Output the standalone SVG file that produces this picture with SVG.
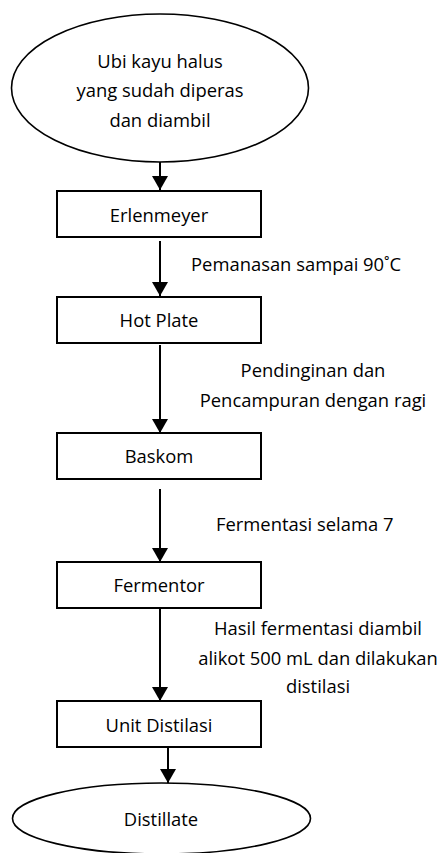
<svg xmlns="http://www.w3.org/2000/svg" width="442" height="853" viewBox="0 0 442 853">
<style>
text{font-family:"Open Sans","Liberation Sans",sans-serif;font-size:18.4px;fill:#000}
.c{text-anchor:middle}
.box{fill:#fff;stroke:#000;stroke-width:2}
.ell{fill:#fff;stroke:#000;stroke-width:1.6}
.con{stroke:#000;stroke-width:2;fill:none}
</style>
<defs>
<marker id="ah" viewBox="0 0 14 16" markerWidth="14" markerHeight="16" refX="14" refY="8" orient="auto" markerUnits="userSpaceOnUse">
<path d="M0,0 L14,8 L0,16 z" fill="#000"/>
</marker>
</defs>
<rect width="442" height="853" fill="#fff"/>
<g id="connectors">
<line class="con" x1="160" y1="162" x2="160" y2="190" marker-end="url(#ah)"/>
<line class="con" x1="160" y1="241" x2="160" y2="296" marker-end="url(#ah)"/>
<line class="con" x1="160" y1="345" x2="160" y2="433" marker-end="url(#ah)"/>
<line class="con" x1="160" y1="489" x2="160" y2="562" marker-end="url(#ah)"/>
<line class="con" x1="160" y1="608" x2="160" y2="701" marker-end="url(#ah)"/>
<line class="con" x1="168" y1="747" x2="168" y2="783" marker-end="url(#ah)"/>
<text x="191" y="271">Pemanasan sampai 90˚C</text>
<text class="c" x="313" y="377">Pendinginan dan</text>
<text class="c" x="313" y="407">Pencampuran dengan ragi</text>
<text x="216" y="531">Fermentasi selama 7</text>
<text class="c" x="318" y="635">Hasil fermentasi diambil</text>
<text class="c" x="318" y="665">alikot 500 mL dan dilakukan</text>
<text class="c" x="318" y="693">distilasi</text>
</g>
<g id="start">
<ellipse class="ell" cx="160" cy="88" rx="148.5" ry="74"/>
<text class="c" x="160" y="68">Ubi kayu halus</text>
<text class="c" x="160" y="97">yang sudah diperas</text>
<text class="c" x="160" y="127">dan diambil</text>
</g>
<g id="erlenmeyer">
<rect class="box" x="57" y="191" width="204" height="46"/>
<text class="c" x="159" y="222">Erlenmeyer</text>
</g>
<g id="hotplate">
<rect class="box" x="57" y="297" width="204" height="46"/>
<text class="c" x="159" y="327">Hot Plate</text>
</g>
<g id="baskom">
<rect class="box" x="57" y="433" width="204" height="46"/>
<text class="c" x="159" y="463">Baskom</text>
</g>
<g id="fermentor">
<rect class="box" x="57" y="562" width="204" height="46"/>
<text class="c" x="159" y="592">Fermentor</text>
</g>
<g id="distilasi">
<rect class="box" x="57" y="701" width="204" height="46"/>
<text class="c" x="159" y="732">Unit Distilasi</text>
</g>
<g id="distillate">
<ellipse class="ell" cx="161.5" cy="818.5" rx="149" ry="35.5"/>
<text class="c" x="161" y="826">Distillate</text>
</g>
</svg>
